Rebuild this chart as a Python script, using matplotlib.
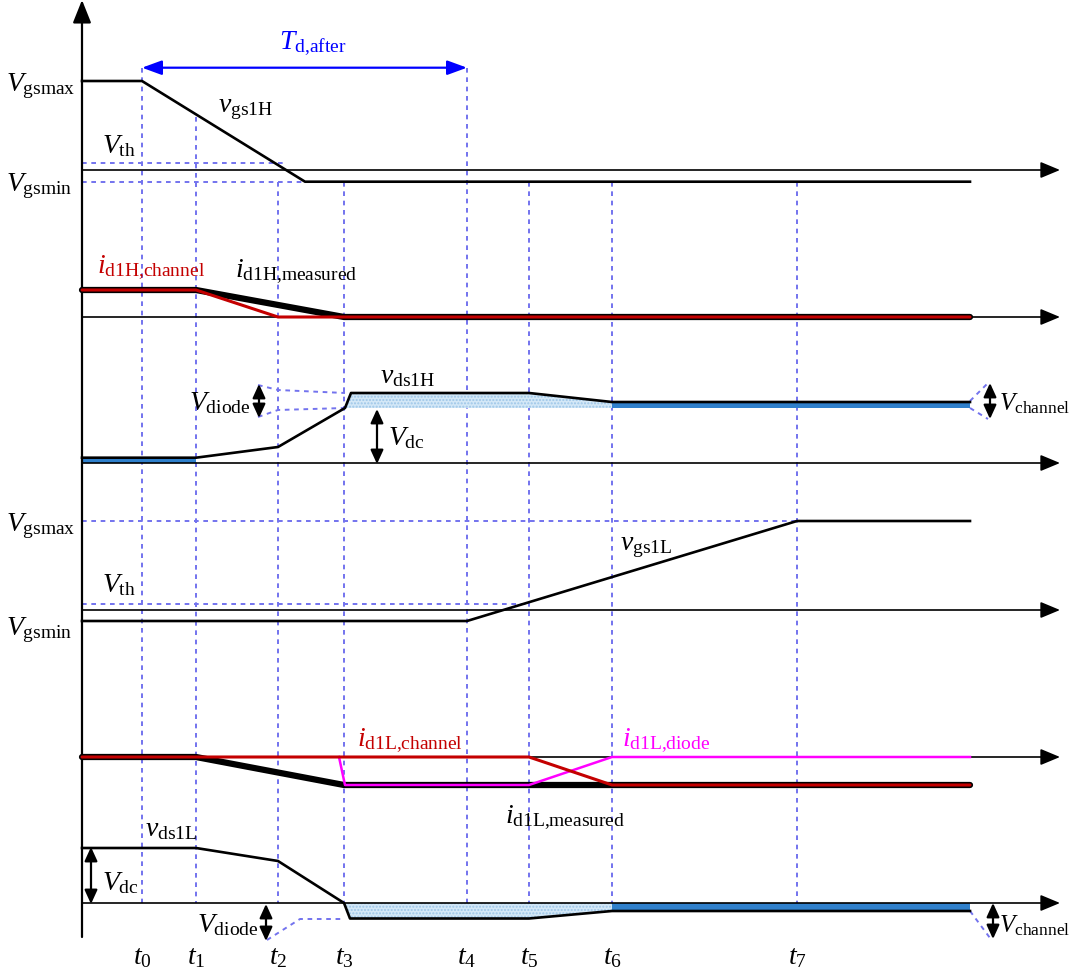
import matplotlib
matplotlib.use('Agg')
import matplotlib.pyplot as plt

plt.rcParams['mathtext.fontset'] = 'custom'
plt.rcParams['mathtext.rm'] = 'Liberation Serif'
plt.rcParams['mathtext.it'] = 'Liberation Serif:italic'
plt.rcParams['font.family'] = 'Liberation Serif'

# time instants t0..t7 (diagram units, left to right)
t_names = ['t_0', 't_1', 't_2', 't_3', 't_4', 't_5', 't_6', 't_7']
t_x = [142, 196, 278, 344, 467, 529, 612, 797]
t_start = 82      # vertical axis position
t_end = 970       # end of waveforms
t_arrow = 1060    # tip of time axes

# baselines of the six rows (diagram units, downwards)
row_axis = [170, 317, 463, 610, 757, 903]

# high-side gate voltage
vgs1H_x = [82, 142, 305, 970]
vgs1H_y = [81, 81, 181.7, 181.7]
vgs1H_vth = 163
vgs1H_vmin = 181.7

# high-side drain current
id1H_ch_x = [82, 196, 278, 970]
id1H_ch_y = [290, 290, 317, 317]
id1H_me_x = [82, 196, 344, 970]
id1H_me_y = [290, 290, 317, 317]

# high-side drain-source voltage
vds1H_x = [82, 196, 278, 345, 351, 529, 612, 970]
vds1H_y = [457.7, 457.7, 447, 408, 393, 393, 402, 402]
vds1H_band = 408

# low-side gate voltage
vgs1L_x = [82, 467, 797, 970]
vgs1L_y = [621, 621, 521, 521]
vgs1L_vmax = 521
vgs1L_vth = 604

# low-side drain current
id1L_me_x = [82, 196, 344, 612, 970]
id1L_me_y = [757, 757, 785, 785, 785]
id1L_ch_x = [82, 529, 612, 970]
id1L_ch_y = [757, 757, 785, 785]
id1L_di_x = [339, 345, 529, 612, 970]
id1L_di_y = [757, 785, 785, 757, 757]

# low-side drain-source voltage
vds1L_x = [82, 196, 278, 344, 350, 529, 612, 970]
vds1L_y = [848, 848, 861, 903, 918.5, 918.5, 911, 911]

DASH = '#7373ee'
RED = '#c40000'
MAG = '#ff00ff'
LIGHT = '#d4e8f7'
DARK = '#2f80cc'
FS = 20

fig = plt.figure(figsize=(10.76, 9.74), dpi=100)
ax = fig.add_axes([0, 0, 1, 1])
ax.set_xlim(0, 1076)
ax.set_ylim(974, 0)
ax.axis('off')


def arrow(x0, y0, x1, y1, style='-|>,head_length=0.6,head_width=0.25',
          color='black', lw=1.2, ms=20, z=5):
    ax.annotate('', xy=(x1, y1), xytext=(x0, y0),
                arrowprops=dict(arrowstyle=style, color=color, lw=lw,
                                mutation_scale=ms, shrinkA=0, shrinkB=0),
                zorder=z)


def dbl(x, y0, y1):
    arrow(x, y0, x, y1, style='<|-|>,head_length=0.7,head_width=0.32',
          lw=1.6, ms=12)


def dash(xs, ys):
    ax.plot(xs, ys, color=DASH, lw=1.4, dashes=(2.4, 2.4), zorder=1)


def label(x, y, s, color='black', ha='left', size=FS):
    ax.text(x, y, s, color=color, ha=ha, va='center', fontsize=size)


# vertical axis and time axes
arrow(82, 937, 82, 0, style='-|>,head_length=0.7,head_width=0.28', lw=1.6)
for yb in row_axis:
    arrow(82, yb, t_arrow, yb, lw=1.2)

# vertical dashed time markers
t_top = [67.7, 117, 181.7, 181.7, 67.7, 181.7, 181.7, 181.7]
for x, top in zip(t_x, t_top):
    dash([x, x], [top, 903])

# Td,after
arrow(t_x[0], 67.7, t_x[4], 67.7, style='<|-|>,head_length=0.6,head_width=0.22',
      color='#0000ff', lw=1.6)
label(313, 44, r'$T_{\mathrm{d{,}after}}$', color='#0000ff', ha='center')

# row 1: vgs1H
dash([82, 283], [vgs1H_vth, vgs1H_vth])
dash([82, 305], [vgs1H_vmin, vgs1H_vmin])
ax.plot(vgs1H_x, vgs1H_y, color='black', lw=1.9, zorder=4)
label(6, 86, r'$V_{\mathrm{gsmax}}$')
label(102, 146, r'$V_{\mathrm{th}}$')
label(6, 186, r'$V_{\mathrm{gsmin}}$')
label(218, 109, r'$v_{\mathrm{gs1H}}$')

# row 2: id1H
ax.plot(id1H_me_x, id1H_me_y, color='black', lw=4.5, zorder=4,
        solid_capstyle='round')
ax.plot(id1H_ch_x, id1H_ch_y, color=RED, lw=2.2, zorder=5,
        solid_capstyle='round')
label(97, 268, r'$i_{\mathrm{d1H{,}channel}}$', color=RED)
label(235, 272, r'$i_{\mathrm{d1H{,}measured}}$')

# row 3: vds1H
ax.fill_between([82, 196], [457.7, 457.7], [463, 463], color=DARK, lw=0, zorder=2)
ax.fill_between(vds1H_x[3:7], vds1H_y[3:7], vds1H_band, facecolor=LIGHT,
                edgecolor='#9cc6e8', hatch='.....', lw=0, zorder=2)
ax.fill_between(vds1H_x[6:], vds1H_y[6:], vds1H_band, color=DARK, lw=0, zorder=2)
ax.plot(vds1H_x, vds1H_y, color='black', lw=1.9, zorder=4)
dash([258, 278, 345], [385, 390, 393])
dash([258, 278, 345], [417, 410, 408])
dbl(259, 384, 418)
label(250, 403, r'$V_{\mathrm{diode}}$', ha='right')
dbl(377, 409, 464)
label(388, 438, r'$V_{\mathrm{dc}}$')
label(380, 377, r'$v_{\mathrm{ds1H}}$')
dash([970, 988], [401, 383])
dash([970, 988], [408, 419])
dbl(990, 383, 419)
label(999, 404, r'$V_{\mathrm{channel}}$', size=18)

# row 4: vgs1L
dash([82, 797], [vgs1L_vmax, vgs1L_vmax])
dash([82, 527], [vgs1L_vth, vgs1L_vth])
ax.plot(vgs1L_x, vgs1L_y, color='black', lw=1.9, zorder=4)
label(6, 526, r'$V_{\mathrm{gsmax}}$')
label(102, 585, r'$V_{\mathrm{th}}$')
label(6, 630, r'$V_{\mathrm{gsmin}}$')
label(620, 547, r'$v_{\mathrm{gs1L}}$')

# row 5: id1L
ax.plot(id1L_me_x, id1L_me_y, color='black', lw=4.5, zorder=4,
        solid_capstyle='round')
ax.plot(id1L_di_x, id1L_di_y, color=MAG, lw=1.8, zorder=5)
ax.plot(id1L_ch_x, id1L_ch_y, color=RED, lw=2.2, zorder=6,
        solid_capstyle='round')
label(357, 741, r'$i_{\mathrm{d1L{,}channel}}$', color=RED)
label(622, 741, r'$i_{\mathrm{d1L{,}diode}}$', color=MAG)
label(505, 818, r'$i_{\mathrm{d1L{,}measured}}$')

# row 6: vds1L
ax.fill_between(vds1L_x[3:7], vds1L_y[3:7], 903, facecolor=LIGHT,
                edgecolor='#9cc6e8', hatch='.....', lw=0, zorder=2)
ax.fill_between(vds1L_x[6:], vds1L_y[6:], 903, color=DARK, lw=0, zorder=2)
ax.plot(vds1L_x, vds1L_y, color='black', lw=1.9, zorder=4)
label(145, 830, r'$v_{\mathrm{ds1L}}$')
dbl(91, 847, 904)
label(102, 883, r'$V_{\mathrm{dc}}$')
dash([267, 300, 344], [940, 919, 919])
dbl(266, 904, 941)
label(258, 925, r'$V_{\mathrm{diode}}$', ha='right')
dash([970, 990], [911, 938])
dbl(993, 903, 939)
label(999, 926, r'$V_{\mathrm{channel}}$', size=18)

# time labels
for name, x in zip(t_names, t_x):
    ax.text(x, 958, '$' + name + '$', ha='center', va='center', fontsize=FS)

fig.savefig('out.png', dpi=100)
